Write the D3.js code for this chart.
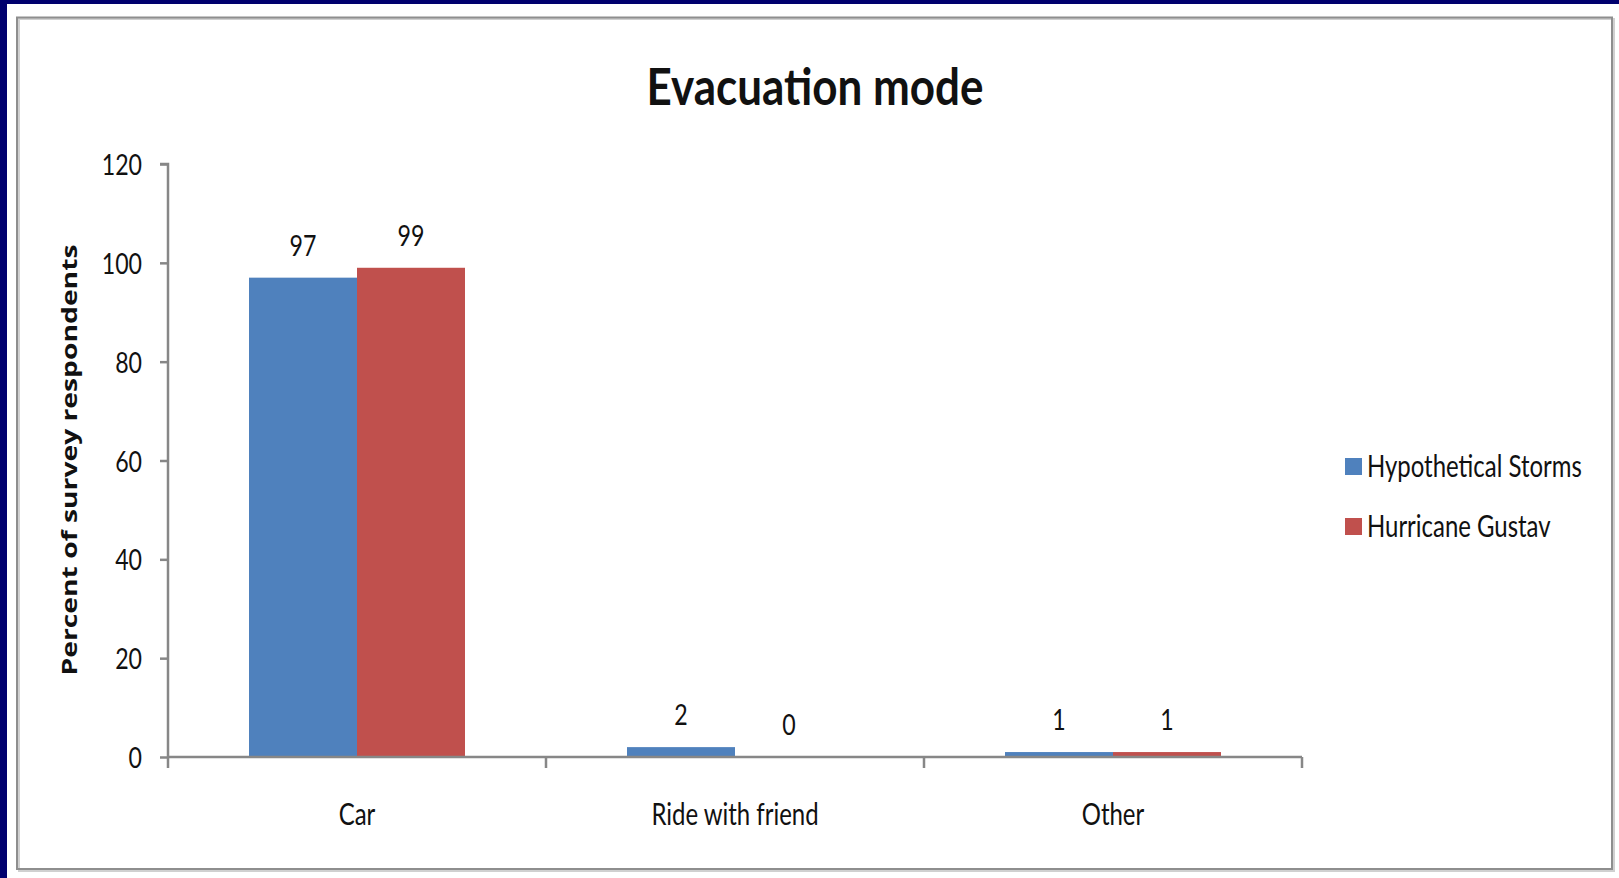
<!DOCTYPE html>
<html><head><meta charset="utf-8">
<script src="https://cdn.jsdelivr.net/npm/d3@7"></script>
<style>html,body{margin:0;padding:0;background:#fff;overflow:hidden}</style>
</head><body>
<svg id="chart" width="1619" height="878"></svg>
<script>
const categories = ["Car", "Ride with friend", "Other"];
const seriesNames = ["Hypothetical Storms", "Hurricane Gustav"];
const hypothetical = [97, 2, 1];
const gustav = [99, 0, 1];
const yTicks = [0, 20, 40, 60, 80, 100, 120];
const title = "Evacuation mode";
const yLabel = "Percent of survey respondents";
const colors = ["#4f81bd", "#c0504d"];

const svg = d3.select("#chart");
svg.append("rect").attr("x",0).attr("y",0).attr("width",1619).attr("height",878).attr("fill","#fff");
svg.append("rect").attr("x",0).attr("y",0).attr("width",1619).attr("height",4).attr("fill","#00006e");
svg.append("rect").attr("x",0).attr("y",0).attr("width",7).attr("height",878).attr("fill","#00006e");
svg.append("rect").attr("x",19).attr("y",19).attr("width",1595).attr("height",852).attr("fill","none").attr("stroke","#d0d0d0").attr("stroke-width",2);
svg.append("rect").attr("x",17).attr("y",17.5).attr("width",1595).attr("height",851.5).attr("fill","none").attr("stroke","#8e8e8e").attr("stroke-width",2);

const FONT = "Lato, 'Open Sans', sans-serif";
function measure(str, size, weight, family){
  const t = svg.append("text").attr("font-family",family).attr("font-size",size).attr("font-weight",weight).text(str);
  const w = t.node().getComputedTextLength(); t.remove(); return w;
}
const K = 215 / measure("Hypothetical Storms", 30, "normal", FONT);
const KT = 337 / measure(title, 51, "bold", FONT);

function ctext(parent, x, y, str, size, anchor, weight, k){
  const g = parent.append("g").attr("transform", `translate(${x},${y}) scale(${k},1)`);
  g.append("text").attr("font-family",FONT).attr("font-size",size).attr("font-weight",weight||"normal")
    .attr("text-anchor",anchor).attr("fill","#111").text(str);
  return g;
}

const pL = 168, pR = 1302, pT = 164, pB = 757;
const x0 = d3.scaleBand().domain(categories).range([pL, pR]).paddingInner(162/378).paddingOuter(81/378);
const x1 = d3.scaleBand().domain(seriesNames).range([0, x0.bandwidth()]);
const y = d3.scaleLinear().domain([0, 120]).range([pB, pT]);

ctext(svg, 815, 105, title, 51, "middle", "bold", KT);

const data = categories.map((c,i)=>({cat:c, vals:[hypothetical[i], gustav[i]]}));
const groups = svg.selectAll("g.cat").data(data).join("g").attr("class","cat")
  .attr("transform", d=>`translate(${x0(d.cat)},0)`);
groups.selectAll("rect").data(d=>d.vals.map((v,j)=>({v, s:seriesNames[j], j})))
  .join("rect")
  .attr("x", d=>x1(d.s)).attr("width", x1.bandwidth())
  .attr("y", d=>y(d.v)).attr("height", d=>y(0)-y(d.v))
  .attr("fill", d=>colors[d.j]);
groups.each(function(d){
  const g = d3.select(this);
  d.vals.forEach((v,j)=>{
    ctext(g, x1(seriesNames[j]) + x1.bandwidth()/2, y(v) - 22, String(v), 29, "middle", "normal", K);
  });
});

const yAxis = d3.axisLeft(y).tickValues(yTicks).tickSize(8).tickFormat("");
const ya = svg.append("g").attr("transform",`translate(${pL},0)`).call(yAxis);
ya.select(".domain").attr("stroke","#878787").attr("stroke-width",2.5).attr("d",`M-8,${pT}H0V${pB}`);
ya.selectAll(".tick line").attr("stroke","#878787").attr("stroke-width",2.5);
yTicks.forEach(t=>{ ctext(svg, 142, y(t)+11, String(t), 29, "end", "normal", K); });

const xa = svg.append("g").attr("transform",`translate(0,${pB})`);
xa.append("path").attr("d",`M${pL},0H${pR}`).attr("stroke","#878787").attr("stroke-width",2.5).attr("fill","none");
const bounds = categories.map(c=>x0(c) - x0.step()*x0.paddingOuter()).concat([pR]);
xa.selectAll("line.tk").data(bounds).join("line").attr("class","tk")
  .attr("x1",d=>d).attr("x2",d=>d).attr("y1",0).attr("y2",11)
  .attr("stroke","#878787").attr("stroke-width",2.5);
categories.forEach(c=>{ ctext(svg, x0(c)+x0.bandwidth()/2, 825, c, 30, "middle", "normal", K); });

(function(){
  const fam = "'Open Sans', 'DejaVu Sans', sans-serif";
  const w = measure(yLabel, 24, "bold", fam);
  const g = svg.append("g").attr("transform",`translate(70,460) rotate(-90) scale(${431/w},0.86)`);
  g.append("text").attr("font-family",fam).attr("font-size",24).attr("font-weight","bold")
    .attr("text-anchor","middle").attr("dy","0.35em").attr("fill","#111").text(yLabel);
})();

const legend = svg.append("g");
seriesNames.forEach((s,i)=>{
  const yy = 458 + i*60;
  legend.append("rect").attr("x",1345).attr("y",yy).attr("width",17).attr("height",17).attr("fill",colors[i]);
  ctext(legend, 1367, yy+19, s, 30, "start", "normal", K);
});
</script>
</body></html>
